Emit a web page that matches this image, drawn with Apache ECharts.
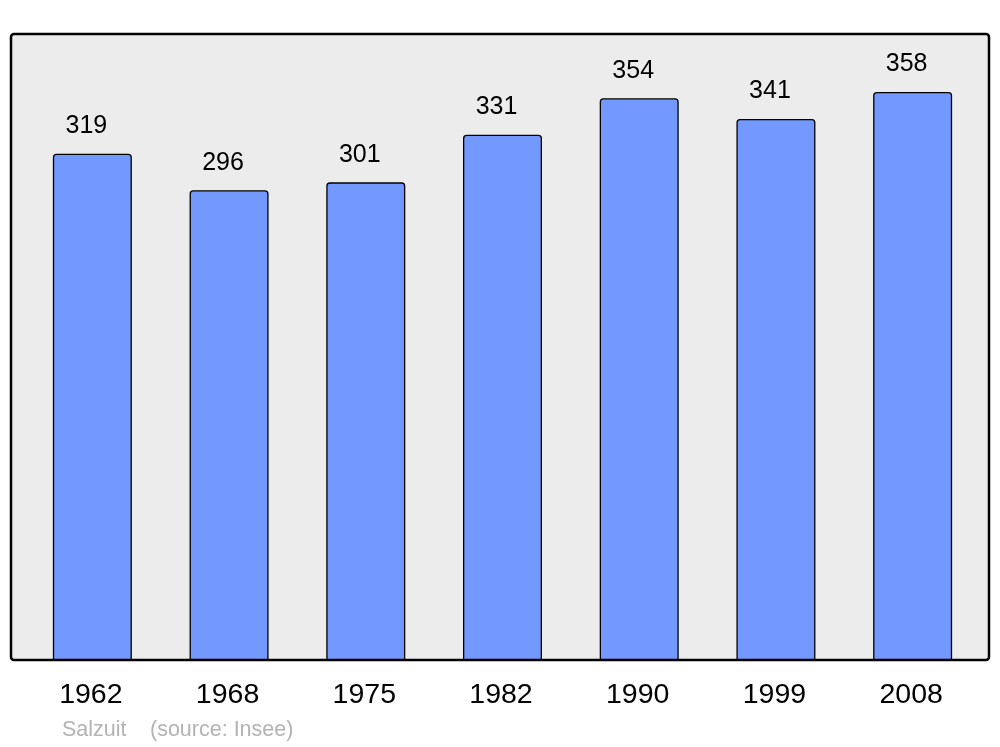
<!DOCTYPE html>
<html>
<head>
<meta charset="utf-8">
<script src="https://cdn.jsdelivr.net/npm/echarts@6/dist/echarts.min.js"></script>
<style>
html,body{margin:0;padding:0;background:#fff;}
#c{width:1000px;height:747px;}
</style>
</head>
<body>
<div id="c"></div>
<script>
const years = ['1962','1968','1975','1982','1990','1999','2008'];
const population = [319, 296, 301, 331, 354, 341, 358];
const place = 'Salzuit';
const source = '(source: Insee)';

const FONT = '"Liberation Sans", Arial, sans-serif';
const chart = echarts.init(document.getElementById('c'), null, {renderer:'canvas'});
chart.setOption({
  animation: false,
  backgroundColor: '#ffffff',
  graphic: [
    {type:'rect', shape:{x:11, y:34, width:978, height:626, r:3}, z:-10,
     style:{fill:'#ececec', stroke:'#000', lineWidth:2.5}},
    {type:'text', x:62, y:730, style:{text:place, fill:'#b3b3b3', fontSize:21.5, fontFamily:FONT, verticalAlign:'middle'}},
    {type:'text', x:150, y:730, style:{text:source, fill:'#b3b3b3', fontSize:21.5, fontFamily:FONT, verticalAlign:'middle'}}
  ],
  grid: {left:24, right:19, top:34, bottom:87, containLabel:false},
  xAxis: {
    type:'category', data: years,
    axisLine:{show:false}, axisTick:{show:false},
    axisLabel:{color:'#000', fontSize:28.5, margin:21, fontFamily:FONT, padding:[0,3,0,0]}
  },
  yAxis: {
    type:'value', min:0, max:394.5,
    show:false, splitLine:{show:false}
  },
  series: [{
    type:'bar', data: population, barWidth:79,
    itemStyle:{color:'#7399ff', borderColor:'#000', borderWidth:1.3, borderRadius:[3,3,0,0]},
    label:{show:true, position:'top', distance:15, offset:[-6,0], color:'#000', fontSize:25,
      fontFamily:FONT}
  }]
});
</script>
</body>
</html>
